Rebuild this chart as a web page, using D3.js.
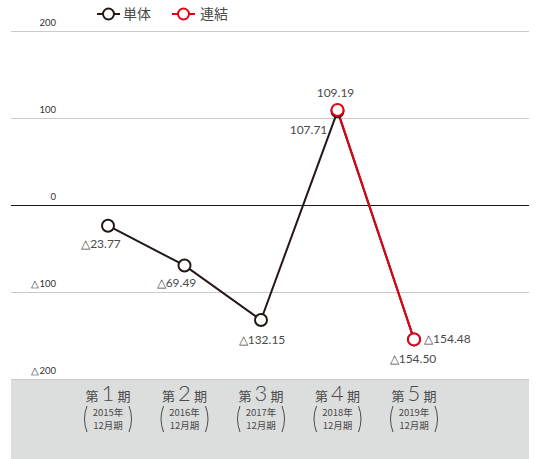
<!DOCTYPE html>
<html><head><meta charset="utf-8">
<script src="https://cdn.jsdelivr.net/npm/d3@7"></script>
<style>body{margin:0;background:#fff}svg{display:block}</style>
</head><body><svg id="c" width="537" height="459"></svg>
<script>
const periods = ["1","2","3","4","5"];
const years = ["2015年","2016年","2017年","2018年","2019年"];
const months = ["12月期","12月期","12月期","12月期","12月期"];
const tanTai = [-23.77, -69.49, -132.15, 107.71, -154.50];
const renketsu = [null, null, null, 109.19, -154.48];
const yTicks = [200, 100, 0, -100, -200];
const seriesNames = ["単体","連結"];
const seriesColors = ["#231815","#e60012"];

const svg = d3.select("#c");
const left = 11, right = 529;
const x = d3.scalePoint().domain(periods).range([108, 414]);
const y = d3.scaleLinear().domain([-200, 200]).range([379, 31]);
const font = "'Noto Sans CJK JP','Noto Sans',sans-serif";
const numFont = "Lato,'Noto Sans',sans-serif";
const txt = "#4a4a4a";
const fmt = v => (v < 0 ? "△" : "") + d3.format(".2f")(Math.abs(v));

// bottom band
svg.append("rect").attr("x", left).attr("y", y(-200)).attr("width", right - left).attr("height", 459 - y(-200)).attr("fill", "#dcdddd");

// gridlines
svg.selectAll("line.grid").data(yTicks).join("line")
  .attr("x1", left).attr("x2", right)
  .attr("y1", d => y(d) + 0.5).attr("y2", d => y(d) + 0.5)
  .attr("stroke", d => d === 0 ? "#231815" : "#c9caca").attr("stroke-width", 1);
svg.selectAll("text.tick").data(yTicks).join("text")
  .attr("x", 56).attr("y", d => y(d) - 5)
  .attr("text-anchor", "end").attr("font-family", numFont).attr("font-size", 9.5).attr("fill", "#333")
  .text(d => (d < 0 ? "△" : "") + Math.abs(d));

// category labels
const cat = svg.append("g").attr("font-family", font).attr("fill", txt);
periods.forEach((p, i) => {
  const cx = x(p);
  const t = cat.append("text").attr("x", cx).attr("y", 401).attr("text-anchor", "middle");
  t.append("tspan").attr("font-size", 13).text("第");
  t.append("tspan").attr("font-size", 22).attr("font-family", numFont).attr("font-weight", 300).attr("dx", 3).text(p);
  t.append("tspan").attr("font-size", 13).attr("dx", 3).text("期");
  cat.append("text").attr("x", cx).attr("y", 416).attr("text-anchor", "middle").attr("font-size", 9.5).text(years[i]);
  cat.append("text").attr("x", cx).attr("y", 429).attr("text-anchor", "middle").attr("font-size", 9.5).text(months[i]);
  [-1, 1].forEach(s => {
    const px = cx + s * 22;
    cat.append("path")
      .attr("d", `M${px - s * 1},${406} Q${px + s * 4},${419} ${px - s * 1},${432}`)
      .attr("fill", "none").attr("stroke", txt).attr("stroke-width", 1);
  });
});

// lines
const line = d3.line().defined(d => d.v !== null).x(d => x(d.p)).y(d => y(d.v));
const s1 = periods.map((p, i) => ({p, v: tanTai[i]}));
const s2 = periods.map((p, i) => ({p, v: renketsu[i]}));
svg.append("path").datum(s1).attr("d", line).attr("fill", "none").attr("stroke", seriesColors[0]).attr("stroke-width", 2);
svg.append("path").datum(s2).attr("d", line).attr("fill", "none").attr("stroke", seriesColors[1]).attr("stroke-width", 2);
svg.selectAll("circle.s1").data(s1).join("circle")
  .attr("cx", d => x(d.p)).attr("cy", d => y(d.v)).attr("r", 6)
  .attr("fill", "#fff").attr("stroke", seriesColors[0]).attr("stroke-width", 2);
svg.selectAll("circle.s2").data(s2.filter(d => d.v !== null)).join("circle")
  .attr("cx", d => x(d.p)).attr("cy", d => y(d.v)).attr("r", 6)
  .attr("fill", "#fff").attr("stroke", seriesColors[1]).attr("stroke-width", 2);

// data labels
const lab = svg.append("g").attr("font-family", numFont).attr("font-size", 12).attr("fill", txt);
const offs1 = [[-7, 22], [-8, 22], [1, 24], [-29, 23], [-1, 24]];
s1.forEach((d, i) => {
  lab.append("text").attr("x", x(d.p) + offs1[i][0]).attr("y", y(d.v) + offs1[i][1]).attr("text-anchor", "middle").text(fmt(d.v));
});
const offs2 = {"4": [-2, -13, "middle"], "5": [10, 4, "start"]};
s2.filter(d => d.v !== null).forEach(d => {
  const o = offs2[d.p];
  lab.append("text").attr("x", x(d.p) + o[0]).attr("y", y(d.v) + o[1]).attr("text-anchor", o[2]).text(fmt(d.v));
});

// legend
const lg = svg.append("g");
[[97, 123], [172, 200]].forEach((pos, i) => {
  lg.append("line").attr("x1", pos[0]).attr("x2", pos[0] + 23).attr("y1", 14).attr("y2", 14).attr("stroke", seriesColors[i]).attr("stroke-width", 2);
  lg.append("circle").attr("cx", pos[0] + 11.5).attr("cy", 14).attr("r", 5.5).attr("fill", "#fff").attr("stroke", seriesColors[i]).attr("stroke-width", 2);
  lg.append("text").attr("x", pos[1]).attr("y", 19).attr("font-family", font).attr("font-size", 14).attr("fill", txt).text(seriesNames[i]);
});
</script></body></html>
